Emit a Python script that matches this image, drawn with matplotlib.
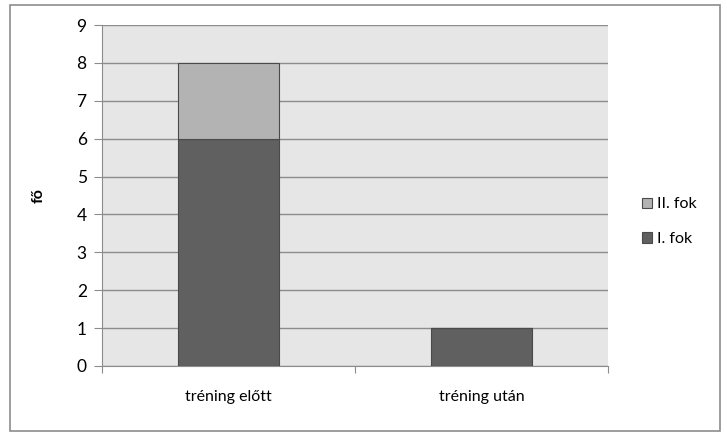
import matplotlib.pyplot as plt
from matplotlib.patches import Rectangle

categories = ["tréning előtt", "tréning után"]
elso_fok = [6, 1]
masodik_fok = [2, 0]
yticks = list(range(0, 10))

plt.rcParams['font.family'] = ['Lato', 'DejaVu Sans']

W, H = 727, 432
fig = plt.figure(figsize=(W / 100, H / 100), dpi=100)

# outer chart frame
fig.patches.append(Rectangle((10 / W, 1 - 431 / H), 710 / W, 426 / H,
                             transform=fig.transFigure, fill=False,
                             edgecolor="#8c8c8c", linewidth=1.2))

ax = fig.add_axes([102 / W, 1 - 366 / H, 506 / W, 341 / H])
ax.set_facecolor("#e6e6e6")

x = range(len(categories))
ax.bar(x, elso_fok, width=0.4, color="#606060", edgecolor="#4a4a4a",
       linewidth=0.8, label="I. fok", zorder=3)
ax.bar(x, masodik_fok, width=0.4, bottom=elso_fok, color="#b3b3b3",
       edgecolor="#4a4a4a", linewidth=0.8, label="II. fok", zorder=3)

ax.set_xlim(-0.5, 1.5)
ax.set_ylim(0, 9)
ax.set_yticks(yticks)
ax.yaxis.grid(True, color="#8c8c8c", linewidth=1.0, zorder=1)
ax.set_axisbelow(True)

ax.set_xticks([-0.5, 0.5, 1.5])
ax.set_xticklabels([])
ax.set_xticks(list(x), minor=True)
ax.set_xticklabels(categories, minor=True, fontsize=11.5)
ax.tick_params(axis="x", which="minor", length=0, pad=17)
ax.tick_params(axis="x", which="major", length=5, color="#8c8c8c")
ax.tick_params(axis="y", length=6, color="#8c8c8c", labelsize=12.5, pad=5)

for side in ["top", "right"]:
    ax.spines[side].set_visible(False)
ax.spines["left"].set_color("#8c8c8c")
ax.spines["bottom"].set_color("#8c8c8c")

ax.set_ylabel("fő", fontsize=11.5, fontweight="bold", labelpad=22)

handles, labels = ax.get_legend_handles_labels()
leg = fig.legend(handles[::-1], labels[::-1], loc="upper left",
                 bbox_to_anchor=(636 / W, 1 - 191 / H), frameon=False,
                 fontsize=11.5, handlelength=0.6, handleheight=0.6,
                 handletextpad=0.3, labelspacing=1.3, borderaxespad=0)

fig.savefig("out.png", dpi=100)
